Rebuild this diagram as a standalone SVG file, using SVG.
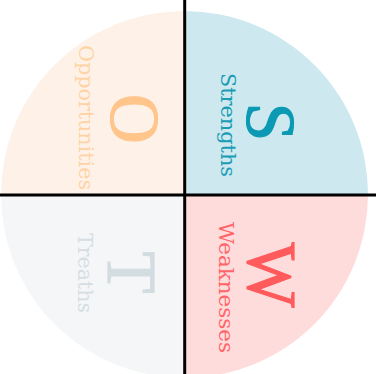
<svg xmlns="http://www.w3.org/2000/svg" width="376" height="374" viewBox="0 0 376 374">
<style>
.big{font-family:"Liberation Serif","Times New Roman",serif;font-size:69px;text-anchor:middle;stroke-width:1.2}
.lbl{font-family:"DejaVu Serif","Liberation Serif",serif;font-size:20px;text-anchor:middle}
.axis{stroke:#000;stroke-width:3;fill:none}
</style>
<rect width="376" height="374" fill="#fff"/>
<g id="node-o">
<path d="M184.5,194.5 L1,194.5 A183.5,183.5 0 0 1 184.5,11 Z" fill="#FEF2E8"/>
<text class="big" fill="#FFC58B" stroke="#FFC58B" transform="translate(110.5,119) rotate(90)">O</text>
<text class="lbl" fill="#FFD2A5" textLength="145" lengthAdjust="spacingAndGlyphs" transform="translate(79,117.5) rotate(90)">Opportunities</text>
</g>
<g id="node-s">
<path d="M184.5,194.5 L184.5,11 A183.5,183.5 0 0 1 368,194.5 Z" fill="#CDE9EF"/>
<text class="big" fill="#0B99B3" stroke="#0B99B3" transform="translate(246.5,122) rotate(90)">S</text>
<text class="lbl" fill="#1A9CB5" textLength="104" lengthAdjust="spacingAndGlyphs" transform="translate(221,125) rotate(90)">Strengths</text>
</g>
<g id="node-w">
<path d="M184.5,194.5 L368,194.5 A183.5,183.5 0 0 1 184.5,378 Z" fill="#FFDCDC"/>
<text class="big" fill="#FF5A5C" stroke="#FF5A5C" transform="translate(247.5,275) rotate(90)">W</text>
<text class="lbl" fill="#FF6468" textLength="131" lengthAdjust="spacingAndGlyphs" transform="translate(218.5,287.5) rotate(90)">Weaknesses</text>
</g>
<g id="node-t">
<path d="M184.5,194.5 L184.5,378 A183.5,183.5 0 0 1 1,194.5 Z" fill="#F4F6F8"/>
<text class="big" fill="#D2DCE1" stroke="#D2DCE1" transform="translate(107.5,272.5) rotate(90)">T</text>
<text class="lbl" fill="#D5DEE3" textLength="80" lengthAdjust="spacingAndGlyphs" transform="translate(78,273) rotate(90)">Treaths</text>
</g>
<g id="connectors">
<line class="axis" x1="184.7" y1="0" x2="184.7" y2="374"/>
<line class="axis" x1="0" y1="195" x2="376" y2="195"/>
</g>
</svg>
